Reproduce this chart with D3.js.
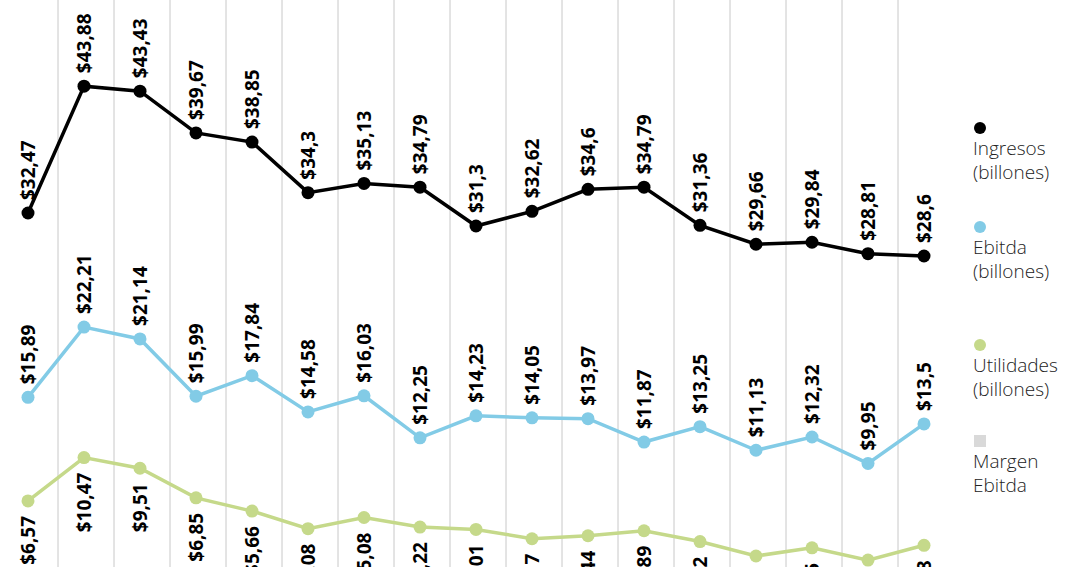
<!DOCTYPE html>
<html>
<head>
<meta charset="utf-8">
<script src="https://cdn.jsdelivr.net/npm/d3@7"></script>
<style>
  body { margin: 0; background: #fff; }
</style>
</head>
<body>
<div id="chart"></div>
<script>
const ingresos = [32.47, 43.88, 43.43, 39.67, 38.85, 34.3, 35.13, 34.79, 31.3, 32.62, 34.6, 34.79, 31.36, 29.66, 29.84, 28.81, 28.6];
const ebitda = [15.89, 22.21, 21.14, 15.99, 17.84, 14.58, 16.03, 12.25, 14.23, 14.05, 13.97, 11.87, 13.25, 11.13, 12.32, 9.95, 13.5];
const utilidades = [6.57, 10.47, 9.51, 6.85, 5.66, 4.08, 5.08, 4.22, 4.01, 3.17, 3.44, 3.89, 2.92, 1.62, 2.35, 1.25, 2.58];
const legendItems = [
  { name: ["Ingresos", "(billones)"], color: "#000000", shape: "circle" },
  { name: ["Ebitda", "(billones)"], color: "#82cbe6", shape: "circle" },
  { name: ["Utilidades", "(billones)"], color: "#c5d98a", shape: "circle" },
  { name: ["Margen", "Ebitda"], color: "#d9d9d9", shape: "square" }
];

const width = 1080, height = 567;
const svg = d3.select("#chart").append("svg")
  .attr("width", width).attr("height", height);

const x = d3.scaleLinear().domain([0, ingresos.length - 1]).range([28, 924]);
const y = d3.scaleLinear().domain([0, 32.47]).range([574, 213]);

// vertical gridlines between points
const gridIdx = d3.range(ingresos.length - 1);
svg.selectAll(".grid").data(gridIdx).enter().append("line")
  .attr("x1", d => x(d + 0.5) + 2).attr("x2", d => x(d + 0.5) + 2)
  .attr("y1", 0).attr("y2", height)
  .style("stroke", "#c8c8c8").style("stroke-width", 1);

const series = [
  { values: ingresos, color: "#000000", below: false },
  { values: ebitda, color: "#82cbe6", below: false },
  { values: utilidades, color: "#c5d98a", below: true }
];

const fmt = v => "$" + String(v).replace(".", ",");

const line = d3.line().x((d, i) => x(i)).y(d => y(d));

series.forEach(s => {
  svg.append("path").datum(s.values)
    .attr("d", line)
    .style("fill", "none").style("stroke", s.color).style("stroke-width", 3.5);
  svg.selectAll(null).data(s.values).enter().append("circle")
    .attr("cx", (d, i) => x(i)).attr("cy", d => y(d)).attr("r", 6.5)
    .style("fill", s.color);
  svg.selectAll(null).data(s.values).enter().append("text")
    .attr("transform", (d, i) => `translate(${x(i) + 7},${s.below ? y(d) + 15 : y(d) - 13}) rotate(-90)`)
    .attr("text-anchor", s.below ? "end" : "start")
    .style("font-family", "'Open Sans', sans-serif")
    .style("font-weight", "bold").style("font-size", "19px")
    .style("fill", "#000")
    .text(fmt);
});

// legend
const legendY = [128, 227, 345, 441];
legendItems.forEach((item, k) => {
  const g = svg.append("g").attr("transform", `translate(980,${legendY[k]})`);
  if (item.shape === "circle") {
    g.append("circle").attr("r", 6).style("fill", item.color);
  } else {
    g.append("rect").attr("x", -6).attr("y", -6).attr("width", 12).attr("height", 12)
      .style("fill", item.color);
  }
  item.name.forEach((t, j) => {
    g.append("text").attr("x", -7).attr("y", 27 + j * 24)
      .style("font-family", "'Open Sans', sans-serif")
      .style("font-weight", 300).style("font-size", "19px")
      .style("fill", "#222").text(t);
  });
});
</script>
</body>
</html>
